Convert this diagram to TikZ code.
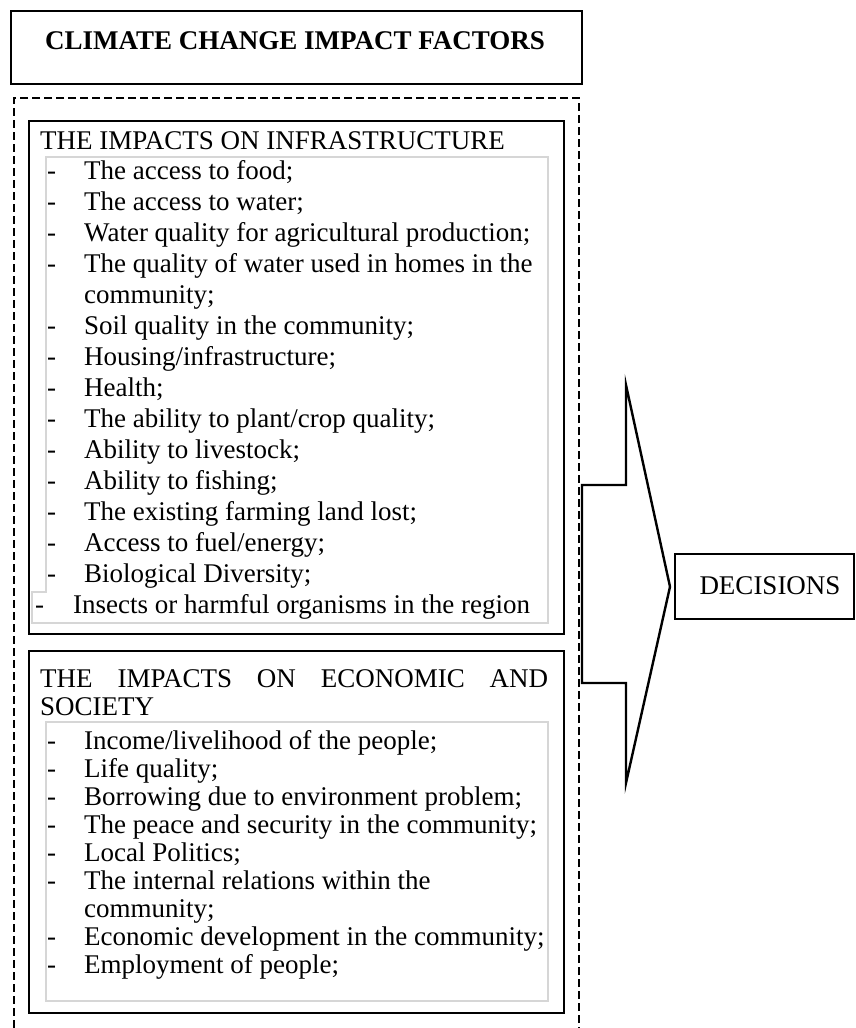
\documentclass[tikz,border=0pt]{standalone}
\usepackage{fontspec}
\setmainfont{Liberation Serif}
\begin{document}
\begin{tikzpicture}[x=1pt,y=-1pt,
  framebox/.style={draw=black, line width=2.4pt, inner sep=0pt, anchor=north west},
  outerdash/.style={draw=black, line width=2pt, dash pattern=on 8pt off 4pt},
  lightbox/.style={draw=black!16, line width=1.2pt},
  txt/.style={anchor=base west, inner sep=0pt, font=\fontsize{27}{31}\selectfont},
  hy/.style={anchor=base west, inner sep=0pt, font=\fontsize{27}{31}\selectfont},
  arrowshape/.style={draw=black, line width=2.4pt, line join=miter}
]
\useasboundingbox (0,0) rectangle (856,1028);

% title
\node[framebox, line width=2.2pt, minimum width=571pt, minimum height=73pt] (title) at (10,10) {};
\node[anchor=base, inner sep=0pt, font=\fontsize{27}{31}\selectfont\bfseries] (titletext) at (295,49) {CLIMATE CHANGE IMPACT FACTORS};

% dashed container
\node[outerdash, anchor=north west, inner sep=0pt, minimum width=565pt, minimum height=960pt] (container) at (13,97) {};

% box 1
\node[framebox, minimum width=535pt, minimum height=513pt] (infra) at (28,120) {};
\node[txt] (infratitle) at (40,149) {THE IMPACTS ON INFRASTRUCTURE};
\draw[lightbox] (46,157) -- (548,157) -- (548,623) -- (32,623) -- (32,592) -- (46,592) -- cycle;

\foreach \t [count=\i from 0] in {
  The access to food;,
  The access to water;,
  Water quality for agricultural production;,
  The quality of water used in homes in the,
  ,
  Soil quality in the community;,
  Housing/infrastructure;,
  Health;,
  The ability to plant/crop quality;,
  Ability to livestock;,
  Ability to fishing;,
  The existing farming land lost;,
  Access to fuel/energy;,
  Biological Diversity;}{
  \ifnum\i=4
    \node[txt] (a\i) at (84,{179+31*\i}) {community;};
  \else
    \node[hy] (ah\i) at (47,{179+31*\i}) {-};
    \node[txt] (a\i) at (84,{179+31*\i}) {\t};
  \fi
}
\node[hy] (ah14) at (35,613) {-};
\node[txt] (a14) at (73,613) {Insects or harmful organisms in the region};

% box 2
\node[framebox, minimum width=535pt, minimum height=362pt] (econ) at (28,650) {};
\node[txt] (econtitle1) at (40,687) {\makebox[508pt][s]{THE IMPACTS ON ECONOMIC AND}};
\node[txt] (econtitle2) at (40,715) {SOCIETY};
\draw[lightbox] (46,722) rectangle (548,1001);

\foreach \t [count=\i from 0] in {
  Income/livelihood of the people;,
  Life quality;,
  Borrowing due to environment problem;,
  The peace and security in the community;,
  Local Politics;,
  The internal relations within the,
  ,
  Economic development in the community;,
  Employment of people;}{
  \ifnum\i=6
    \node[txt] (b\i) at (84,{749+28*\i}) {community;};
  \else
    \node[hy] (bh\i) at (47,{749+28*\i}) {-};
    \node[txt] (b\i) at (84,{749+28*\i}) {\t};
  \fi
}

% decisions
\node[framebox, minimum width=179pt, minimum height=65pt] (decisions) at (674,553) {};
\node[anchor=base, inner sep=0pt, font=\fontsize{27}{31}\selectfont] (dectext) at (770,594) {DECISIONS};

% block arrow
\coordinate (tip) at (decisions.west);
\draw[arrowshape] (582,485) -- (626,485) -- (626,385) -- ([xshift=-4pt]tip) -- (626,783) -- (626,683) -- (582,683) -- cycle;
\end{tikzpicture}
\end{document}
